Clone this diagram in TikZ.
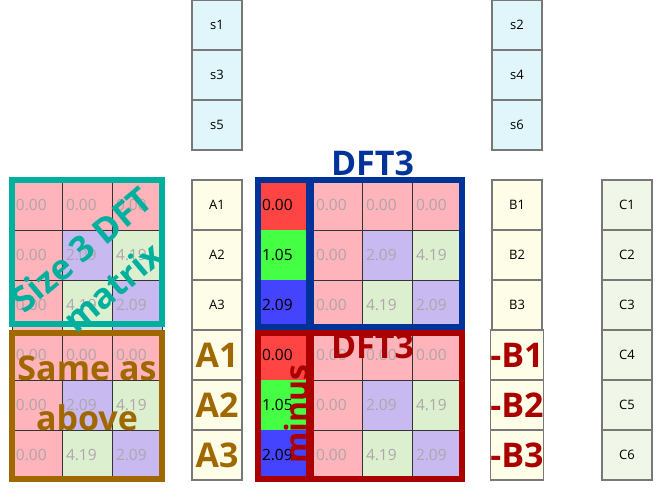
\documentclass[tikz,border=0pt]{standalone}
\usepackage{fontspec}
\IfFontExistsTF{Noto Sans Bold}
  {\setmainfont{Noto Sans}[BoldFont={Noto Sans Bold}]}
  {\IfFontExistsTF{Open Sans Bold}
    {\setmainfont{Open Sans}[BoldFont={Open Sans Bold}]}
    {\setmainfont{Noto Sans}[BoldFont={Noto Sans}, BoldFeatures={FakeBold=3}]}}
\definecolor{sfill}{RGB}{224,246,250}
\definecolor{abfill}{RGB}{253,253,232}
\definecolor{cfill}{RGB}{240,246,232}
\definecolor{pinkc}{RGB}{255,179,186}
\definecolor{lavc}{RGB}{200,186,240}
\definecolor{grnc}{RGB}{220,240,208}
\definecolor{ph0}{RGB}{255,68,68}
\definecolor{ph1}{RGB}{68,255,68}
\definecolor{ph2}{RGB}{68,68,255}
\definecolor{bluef}{RGB}{0,51,153}
\definecolor{redf}{RGB}{170,0,0}
\definecolor{brownf}{RGB}{160,104,0}
\definecolor{tealf}{RGB}{0,176,158}
\definecolor{cellline}{RGB}{120,120,120}
\definecolor{numgray}{RGB}{175,166,170}
\begin{document}
\begin{tikzpicture}[x=1pt, y=-1pt,
  vcell/.style={draw=cellline, line width=1.5pt, minimum width=50pt, minimum height=50pt, inner sep=0pt, font=\fontsize{13}{15}\selectfont},
  scell/.style={vcell, fill=sfill},
  abcell/.style={vcell, fill=abfill},
  ccell/.style={vcell, fill=cfill},
  mcell/.style={draw=black!80, line width=0.9pt, minimum width=50pt, minimum height=50pt, text width=42pt, inner xsep=4pt, inner ysep=0pt, align=left, font=\fontsize{15.5}{18}\selectfont, text=numgray},
  phcell/.style={minimum width=50pt, minimum height=50pt, text width=42pt, inner xsep=4pt, inner ysep=0pt, align=left, font=\fontsize{15.5}{18}\selectfont, text=black},
  bigtext/.style={font=\fontsize{34}{40}\selectfont\bfseries},
  labeltext/.style={font=\fontsize{34}{40}\selectfont\bfseries},
  framebox/.style={line width=6pt},
]
\useasboundingbox (0,0) rectangle (660,500);

% s columns
\node[scell] (s1) at (217,25) {s1};
\node[scell] (s3) at (217,75) {s3};
\node[scell] (s5) at (217,125) {s5};
\node[scell] (s2) at (517,25) {s2};
\node[scell] (s4) at (517,75) {s4};
\node[scell] (s6) at (517,125) {s6};

% A column
\node[abcell] (a1) at (217,205) {A1};
\node[abcell] (a2) at (217,255) {A2};
\node[abcell] (a3) at (217,305) {A3};
\node[abcell, bigtext, text=brownf] (a4) at (217,355) {A1};
\node[abcell, bigtext, text=brownf] (a5) at (217,405) {A2};
\node[abcell, bigtext, text=brownf] (a6) at (217,455) {A3};

% B column
\node[abcell] (b1) at (517,205) {B1};
\node[abcell] (b2) at (517,255) {B2};
\node[abcell] (b3) at (517,305) {B3};
\node[abcell, bigtext, text=redf] (b4) at (517,355) {-B1};
\node[abcell, bigtext, text=redf] (b5) at (517,405) {-B2};
\node[abcell, bigtext, text=redf] (b6) at (517,455) {-B3};

% C column
\foreach \k in {1,...,6} {
  \node[ccell] (c\k) at (627,{155+50*\k}) {C\k};
}

% matrices
\foreach \i/\j/\v/\c in {0/0/0.00/pinkc, 1/0/0.00/pinkc, 2/0/0.00/pinkc,
                         0/1/0.00/pinkc, 1/1/2.09/lavc, 2/1/4.19/grnc,
                         0/2/0.00/pinkc, 1/2/4.19/grnc, 2/2/2.09/lavc} {
  \node[mcell, fill=\c] (u\i\j) at ({37+50*\i},{205+50*\j}) {\v};
  \node[mcell, fill=\c] (l\i\j) at ({37+50*\i},{355+50*\j}) {\v};
  \node[mcell, fill=\c] (d\i\j) at ({337+50*\i},{205+50*\j}) {\v};
  \node[mcell, fill=\c] (m\i\j) at ({337+50*\i},{355+50*\j}) {\v};
}

% phase columns
\foreach \j/\v/\c in {0/0.00/ph0, 1/1.05/ph1, 2/2.09/ph2} {
  \node[phcell, fill=\c] (p\j) at (283,{205+50*\j}) {\v};
  \node[phcell, fill=\c] (q\j) at (283,{355+50*\j}) {\v};
}

% frames
\draw[framebox, tealf] (12,180) rectangle (162,324);
\draw[framebox, brownf] (12,333) rectangle (162,479);
\draw[framebox, bluef] (258,180) rectangle (462,327);
\draw[bluef, line width=8pt] (310,180) -- (310,327);
\draw[framebox, redf] (258,333) rectangle (462,479);
\draw[redf, line width=8pt] (310,333) -- (310,479);

% labels
\node[labeltext, text=bluef] (dftb) at (372.5,163.3) {DFT3};
\node[labeltext, text=redf] (dftr) at (372.5,346.7) {DFT3};
\node[font=\fontsize{32}{38}\selectfont\bfseries, text=redf, rotate=90] (minus) at (296,414) {minus};
\node[rotate=40, align=center, font=\fontsize{35}{49}\selectfont\bfseries, text=tealf] (size) at (97,268) {Size 3 DFT\\matrix};
\node[anchor=base, bigtext, text=brownf] (same1) at (87,380) {Same as};
\node[anchor=base, bigtext, text=brownf] (same2) at (87,430) {above};
\end{tikzpicture}
\end{document}
